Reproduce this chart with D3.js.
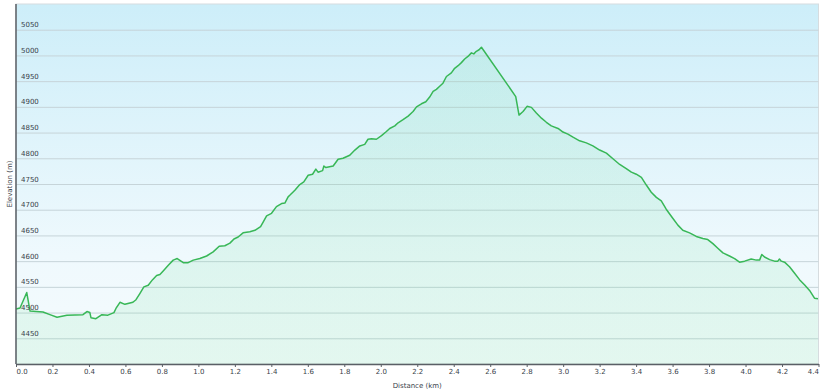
<!DOCTYPE html>
<html>
<head>
<meta charset="utf-8">
<script src="https://cdn.jsdelivr.net/npm/d3@7"></script>
<style>
  body { margin: 0; background: #fff; }
  svg { display: block; }
  .tick text, .lbl { font-family: "DejaVu Sans", Verdana, sans-serif; font-size: 7px; fill: #3a3f4a; }
</style>
</head>
<body>
<svg id="chart" width="825" height="391"></svg>
<script>
// elevation profile
var distKm = [0, 0.022, 0.059, 0.077, 0.148, 0.186, 0.225, 0.279, 0.367, 0.389, 0.405, 0.411, 0.438, 0.471, 0.504, 0.537,
  0.548, 0.570, 0.597, 0.641, 0.658, 0.679, 0.701, 0.725, 0.749, 0.771, 0.789, 0.807, 0.835, 0.862, 0.884, 0.917,
  0.944, 0.972, 1.008, 1.045, 1.081, 1.114, 1.145, 1.173, 1.195, 1.218, 1.245, 1.282, 1.310, 1.341, 1.355, 1.374,
  1.401, 1.428, 1.456, 1.474, 1.492, 1.501, 1.529, 1.556, 1.578, 1.602, 1.626, 1.644, 1.656, 1.681, 1.688, 1.699,
  1.739, 1.766, 1.793, 1.830, 1.858, 1.885, 1.912, 1.930, 1.949, 1.976, 2.004, 2.031, 2.049, 2.077, 2.095, 2.122,
  2.150, 2.177, 2.196, 2.223, 2.247, 2.268, 2.287, 2.305, 2.323, 2.341, 2.360, 2.387, 2.405, 2.424, 2.442, 2.460,
  2.478, 2.497, 2.510, 2.524, 2.539, 2.552, 2.740, 2.758, 2.780, 2.802, 2.826, 2.853, 2.881, 2.908, 2.935, 2.972,
  2.999, 3.026, 3.054, 3.090, 3.127, 3.163, 3.200, 3.237, 3.273, 3.310, 3.346, 3.374, 3.401, 3.429, 3.456, 3.483,
  3.511, 3.538, 3.565, 3.602, 3.629, 3.656, 3.693, 3.730, 3.766, 3.793, 3.821, 3.848, 3.876, 3.912, 3.940, 3.967,
  3.995, 4.031, 4.059, 4.077, 4.089, 4.104, 4.132, 4.159, 4.177, 4.186, 4.196, 4.214, 4.241, 4.268, 4.296, 4.323,
  4.351, 4.378, 4.397];
var elevM = [4507, 4509, 4539, 4503, 4501, 4496, 4491, 4495, 4496, 4502, 4500, 4490, 4488, 4496, 4495, 4500,
  4508, 4520, 4516, 4520, 4525, 4537, 4550, 4553, 4564, 4572, 4574, 4581, 4592, 4602, 4605, 4597,
  4597, 4602, 4605, 4610, 4618, 4629, 4630, 4635, 4643, 4647, 4655, 4657, 4660, 4667, 4676, 4688,
  4693, 4706, 4712, 4713, 4725, 4728, 4738, 4749, 4754, 4767, 4769, 4779, 4773, 4776, 4785, 4782,
  4785, 4798, 4800, 4806, 4816, 4824, 4827, 4837, 4838, 4837, 4844, 4852, 4858, 4863, 4869, 4875,
  4882, 4891, 4900, 4906, 4910, 4919, 4930, 4934, 4940, 4946, 4959, 4966, 4975, 4980, 4986, 4993,
  4998, 5005, 5003, 5008, 5011, 5016, 4920, 4884, 4891, 4901, 4899, 4888, 4878, 4870, 4863, 4858,
  4851, 4847, 4841, 4834, 4830, 4824, 4816, 4810, 4799, 4788, 4780, 4773, 4769, 4763, 4748, 4734,
  4724, 4717, 4701, 4683, 4670, 4660, 4655, 4648, 4644, 4642, 4634, 4625, 4616, 4610, 4605, 4598,
  4600, 4604, 4602, 4602, 4613, 4608, 4603, 4600, 4600, 4604, 4600, 4598, 4589, 4577, 4564, 4554,
  4543, 4528, 4527];

var xTicks = [0, 0.2, 0.4, 0.6, 0.8, 1.0, 1.2, 1.4, 1.6, 1.8, 2.0, 2.2, 2.4, 2.6, 2.8, 3.0, 3.2, 3.4, 3.6, 3.8, 4.0, 4.2, 4.4];
var yTicks = [4450, 4500, 4550, 4600, 4650, 4700, 4750, 4800, 4850, 4900, 4950, 5000, 5050];

(function() {
  var svg = d3.select("#chart");
  var pLeft = 16, pRight = 818.5, pTop = 4, pBottom = 364;
  var w = pRight - pLeft, h = pBottom - pTop;

  var x = d3.scaleLinear().domain([0, 4.4]).range([pLeft, pRight]);
  var y = d3.scaleLinear().domain([4400, 5100]).range([pBottom, pTop]);

  var defs = svg.append("defs");
  var bg = defs.append("linearGradient").attr("id", "bg").attr("x1", 0).attr("y1", 0).attr("x2", 0).attr("y2", 1);
  bg.append("stop").attr("offset", "0%").attr("stop-color", "#cdeef9");
  bg.append("stop").attr("offset", "70%").attr("stop-color", "#eff9fd");
  bg.append("stop").attr("offset", "100%").attr("stop-color", "#f5fbfd");
  var fillG = defs.append("linearGradient").attr("id", "fillG").attr("x1", 0).attr("y1", 0).attr("x2", 0).attr("y2", 1);
  fillG.append("stop").attr("offset", "0%").attr("stop-color", "#5fd69a").attr("stop-opacity", 0.14);
  fillG.append("stop").attr("offset", "100%").attr("stop-color", "#5fdc8a").attr("stop-opacity", 0.12);

  // plot background + light frame
  svg.append("rect").attr("x", pLeft).attr("y", pTop).attr("width", w).attr("height", h)
    .attr("fill", "url(#bg)").attr("stroke", "#d6dcdf").attr("stroke-width", 1);

  // grid lines
  svg.append("g").selectAll("line").data(yTicks).enter().append("line")
    .attr("x1", pLeft).attr("x2", pRight)
    .attr("y1", function(d) { return y(d) + 0.5; })
    .attr("y2", function(d) { return y(d) + 0.5; })
    .attr("stroke", "#c6d4d9").attr("stroke-width", 1);

  var pts = distKm.map(function(d, i) { return [d, elevM[i]]; });

  var area = d3.area()
    .x(function(d) { return x(d[0]); })
    .y0(pBottom)
    .y1(function(d) { return y(d[1]); });
  var line = d3.line()
    .x(function(d) { return x(d[0]); })
    .y(function(d) { return y(d[1]); });

  svg.append("path").datum(pts).attr("d", area).attr("fill", "url(#fillG)");
  svg.append("path").datum(pts).attr("d", line)
    .attr("fill", "none").attr("stroke", "#38b757").attr("stroke-width", 1.5)
    .attr("stroke-linejoin", "round");

  // y labels sit inside the plot, just above each grid line
  svg.append("g").selectAll("text").data(yTicks).enter().append("text")
    .attr("class", "lbl")
    .attr("x", pLeft + 5)
    .attr("y", function(d) { return y(d) - 2.5; })
    .text(function(d) { return d; });

  // axes
  var xAxis = svg.append("g").attr("transform", "translate(0," + pBottom + ")")
    .call(d3.axisBottom(x).tickValues(xTicks).tickFormat(d3.format(".1f")).tickSize(3).tickSizeOuter(0));
  xAxis.select(".domain").attr("stroke", "#5a5f66").attr("stroke-width", 1.5);
  xAxis.selectAll(".tick line").attr("stroke", "#5a5f66");
  xAxis.selectAll(".tick text").attr("dy", "0.9em").attr("y", 4);
  xAxis.selectAll(".tick text").filter(function(d) { return d === 0; }).attr("text-anchor", "start");
  xAxis.selectAll(".tick text").filter(function(d) { return d === 4.4; }).attr("text-anchor", "end");

  svg.append("line").attr("x1", pLeft).attr("x2", pLeft).attr("y1", pTop).attr("y2", pBottom)
    .attr("stroke", "#5a5f66").attr("stroke-width", 1.5);

  svg.append("text").attr("class", "lbl")
    .attr("x", (pLeft + pRight) / 2).attr("y", 388)
    .attr("text-anchor", "middle").text("Distance  (km)");

  svg.append("text").attr("class", "lbl")
    .attr("transform", "translate(12," + ((pTop + pBottom) / 2) + ") rotate(-90)")
    .attr("text-anchor", "middle").text("Elevation (m)");
})();
</script>
</body>
</html>
